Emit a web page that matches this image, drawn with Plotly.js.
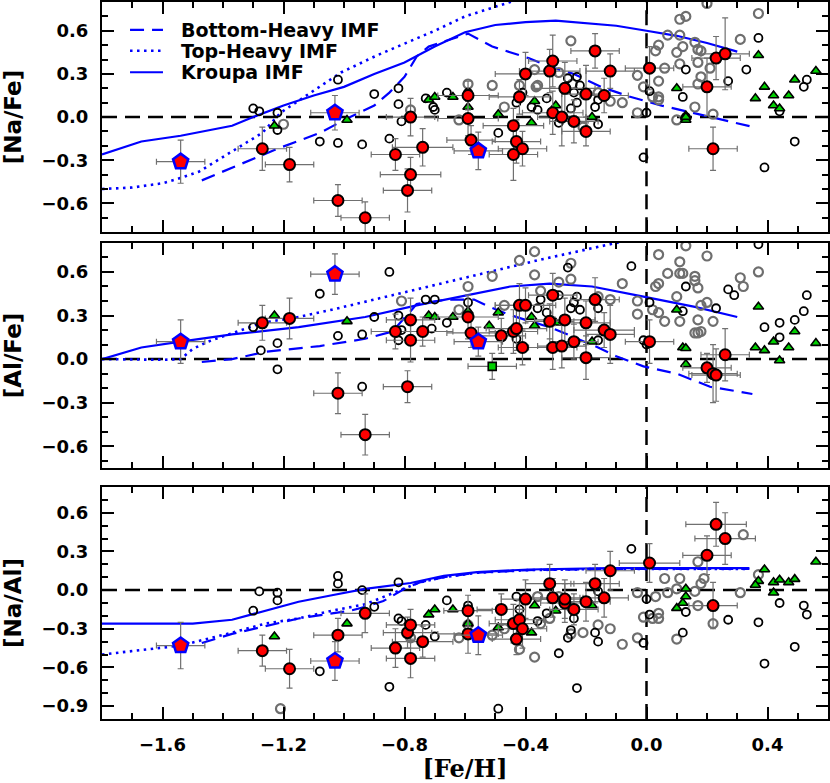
<!DOCTYPE html>
<html><head><meta charset="utf-8">
<script src="https://cdn.plot.ly/plotly-3.0.1.min.js"></script>
<style>body{margin:0;padding:0;background:#fff}#chart{width:830px;height:783px}</style>
</head><body><div id="chart"></div>
<script>
// ---------- Panel 1: [Na/Fe] ----------
const p1RedX  = [-1.27,-1.18,-1.02,-0.93,-0.83,-0.78,-0.79,-0.78,-0.74,-0.59,-0.59,-0.58,-0.42,-0.40,-0.44,-0.43,-0.41,-0.44,-0.32,-0.31,-0.31,-0.28,-0.27,-0.24,-0.20,-0.20,-0.17,-0.14,-0.12,0.01,0.20,0.23,0.26,0.22];
const p1RedY  = [-0.22,-0.33,-0.58,-0.70,-0.26,-0.40,-0.51,0.00,-0.21,0.15,-0.01,-0.16,0.14,0.30,-0.06,-0.17,-0.22,-0.26,0.32,0.39,0.03,0.00,0.20,-0.03,0.16,-0.10,0.46,0.15,0.32,0.34,0.21,0.41,0.44,-0.22];
const p1RedEx = [0.08,0.08,0.08,0.08,0.08,0.10,0.08,0.08,0.10,0.10,0.10,0.08,0.10,0.10,0.10,0.08,0.08,0.08,0.10,0.08,0.10,0.08,0.10,0.08,0.08,0.08,0.08,0.08,0.08,0.08,0.08,0.08,0.08,0.08];
const p1RedEy = [0.15,0.12,0.11,0.11,0.11,0.12,0.15,0.13,0.13,0.10,0.12,0.10,0.12,0.15,0.12,0.15,0.12,0.18,0.15,0.18,0.15,0.20,0.18,0.15,0.20,0.10,0.12,0.12,0.12,0.15,0.20,0.15,0.25,0.15];
const p1BlackX = [-1.30,-1.28,-1.22,-1.22,-1.02,-1.08,-1.02,-0.94,-0.90,-0.85,-0.82,-0.82,-0.81,-0.73,-0.705,-0.70,-0.66,-0.59,-0.49,-0.43,-0.41,-0.38,-0.36,-0.33,-0.29,-0.26,-0.25,-0.24,-0.23,-0.22,-0.23,-0.17,-0.16,-0.16,0.01,0.00,-0.01,0.13,0.12,0.27,0.33,0.37,0.49,0.39,0.52,0.53,0.44,0.13];
const p1BlackY = [0.06,0.04,0.03,-0.09,0.26,-0.17,-0.18,-0.19,0.16,-0.15,0.20,0.09,-0.03,0.13,0.07,0.05,0.17,0.17,-0.11,0.10,0.17,0.07,0.05,0.13,-0.04,0.27,0.06,0.17,0.10,0.22,0.28,0.07,0.12,-0.05,0.18,0.03,-0.28,0.33,0.14,0.25,0.33,0.55,-0.17,-0.35,0.21,0.26,0.04,0.00];
const p1GreyX = [-1.20,-0.78,-0.25,-0.37,-0.36,-0.365,-0.29,-0.51,-0.59,-0.47,-0.62,-0.42,-0.245,-0.16,-0.21,-0.12,-0.08,-0.03,-0.03,-0.01,0.02,0.04,0.04,0.06,0.03,0.04,0.07,0.11,0.13,0.11,0.12,0.10,0.11,0.16,0.17,0.18,0.17,0.18,0.17,0.16,0.10,0.22,0.21,0.31,0.37,0.20,0.04];
const p1GreyY = [-0.05,0.05,0.53,0.33,0.22,0.21,0.31,0.22,0.23,0.07,-0.02,0.22,0.23,0.17,-0.07,0.11,0.10,0.29,0.03,0.21,0.14,0.14,0.25,0.34,0.46,0.50,0.57,0.68,0.70,0.57,0.49,0.45,0.37,0.52,0.47,0.46,0.38,0.28,0.23,0.07,-0.02,0.02,0.34,0.54,0.72,0.79,0.12];
const p1TriX = [-1.23,-0.99,-0.72,-0.70,-0.64,-0.59,-0.49,-0.37,-0.38,-0.30,-0.18,0.10,0.13,0.13,0.13,0.37,0.36,0.39,0.42,0.42,0.44,0.47,0.49,0.56];
const p1TriY = [-0.06,-0.02,0.12,0.14,0.14,0.07,0.02,0.11,-0.04,0.08,0.00,0.20,0.01,-0.02,0.00,0.43,0.13,0.21,0.15,0.08,0.06,0.15,0.26,0.32];

// ---------- Panel 2: [Al/Fe] ----------
const p2RedX  = [-1.27,-1.18,-1.02,-0.93,-0.83,-0.78,-0.78,-0.79,-0.74,-0.59,-0.58,-0.48,-0.44,-0.43,-0.41,-0.42,-0.40,-0.32,-0.31,-0.31,-0.28,-0.27,-0.24,-0.20,-0.20,-0.17,-0.14,-0.12,0.01,0.26,0.20,0.22,0.23];
const p2RedY  = [0.25,0.28,-0.235,-0.52,0.19,0.27,0.13,-0.19,0.19,0.29,0.18,0.16,0.19,0.21,0.08,0.37,0.37,0.26,0.44,0.08,0.09,0.27,0.12,0.25,0.01,0.41,0.20,0.17,0.12,0.03,-0.06,-0.10,-0.11];
const p2RedEx = [0.08,0.08,0.08,0.08,0.08,0.08,0.08,0.08,0.10,0.10,0.08,0.08,0.08,0.10,0.08,0.08,0.10,0.08,0.08,0.08,0.08,0.10,0.08,0.08,0.08,0.08,0.10,0.08,0.08,0.08,0.08,0.08,0.08];
const p2RedEy = [0.12,0.14,0.14,0.14,0.12,0.15,0.15,0.11,0.10,0.15,0.10,0.12,0.15,0.15,0.12,0.15,0.12,0.12,0.15,0.15,0.15,0.15,0.12,0.15,0.15,0.15,0.12,0.20,0.15,0.18,0.10,0.20,0.18];
const p2BlackX = [-1.30,-1.275,-1.22,-1.22,-1.08,-1.02,-0.94,-0.94,-0.90,-0.85,-0.82,-0.81,-0.82,-0.73,-0.70,-0.71,-0.66,-0.59,-0.43,-0.36,-0.35,-0.33,-0.29,-0.26,-0.25,-0.24,-0.23,-0.22,-0.17,-0.16,-0.16,-0.05,-0.01,0.00,0.01,0.12,0.13,0.23,0.27,0.29,0.39,0.44,0.44,0.49,0.52,0.53,0.37];
const p2BlackY = [0.22,0.06,0.11,-0.07,0.45,0.16,0.17,-0.19,0.29,0.60,0.30,0.20,0.13,0.41,0.41,0.21,0.25,0.39,0.14,0.35,0.41,0.32,0.44,0.63,0.35,0.39,0.43,0.34,0.41,0.35,0.13,0.64,0.13,0.10,0.39,0.33,0.50,0.35,0.48,0.44,0.22,0.25,0.15,0.27,0.33,0.44,0.79];
const p2GreyX = [-0.81,-0.59,-0.62,-0.51,-0.47,-0.42,-0.37,-0.37,-0.35,-0.25,-0.25,-0.29,-0.16,-0.12,-0.08,-0.03,-0.03,0.02,0.04,0.03,0.04,0.04,0.06,0.07,0.10,0.11,0.11,0.12,0.11,0.13,0.16,0.16,0.17,0.16,0.17,0.18,0.17,0.18,0.20,0.20,0.22,0.31,0.32,0.37];
const p2GreyY = [0.40,0.50,0.34,0.57,0.37,0.68,0.74,0.58,0.47,0.66,0.55,0.53,0.43,0.41,0.52,0.40,0.31,0.34,0.32,0.50,0.52,0.72,0.26,0.59,0.43,0.67,0.59,0.59,0.26,0.78,0.57,0.54,0.49,0.18,0.18,0.19,0.27,0.37,0.39,0.71,0.26,0.56,0.50,0.60];
const p2TriX = [-1.23,-0.99,-0.72,-0.70,-0.64,-0.59,-0.52,-0.49,-0.38,-0.37,-0.30,-0.18,0.10,0.12,0.13,0.13,0.37,0.36,0.39,0.42,0.44,0.47,0.49,0.56];
const p2TriY = [0.30,0.26,0.30,0.29,0.29,0.33,0.23,0.32,0.29,0.23,0.25,0.12,0.34,0.08,0.075,-0.035,0.36,0.08,0.06,0.12,-0.01,0.08,0.19,0.11];
const p2SqX = [-0.51], p2SqY = [-0.05], p2SqEx = [0.08], p2SqEy = [0.09];

// ---------- Panel 3: [Na/Al] ----------
const p3RedX  = [-1.27,-1.18,-1.02,-0.93,-0.83,-0.79,-0.78,-0.78,-0.74,-0.59,-0.59,-0.48,-0.44,-0.42,-0.41,-0.43,-0.40,-0.32,-0.31,-0.27,-0.27,-0.24,-0.20,-0.17,-0.14,-0.12,0.01,0.20,0.23,0.26,0.22];
const p3RedY  = [-0.47,-0.61,-0.35,-0.18,-0.45,-0.33,-0.27,-0.53,-0.40,-0.16,-0.34,-0.15,-0.26,-0.23,-0.30,-0.38,-0.07,0.05,-0.06,-0.10,-0.07,-0.15,-0.09,0.05,-0.06,0.15,0.21,0.27,0.51,0.40,-0.12];
const p3RedEx = [0.08,0.08,0.08,0.08,0.08,0.08,0.08,0.08,0.10,0.08,0.10,0.08,0.08,0.08,0.08,0.08,0.08,0.08,0.10,0.08,0.08,0.08,0.08,0.08,0.08,0.08,0.10,0.08,0.10,0.10,0.08];
const p3RedEy = [0.12,0.15,0.13,0.15,0.15,0.12,0.12,0.15,0.12,0.12,0.15,0.12,0.15,0.15,0.15,0.12,0.15,0.15,0.15,0.15,0.15,0.12,0.15,0.15,0.15,0.15,0.15,0.15,0.17,0.20,0.18];
const p3BlackX = [-1.30,-1.28,-1.22,-1.22,-1.08,-1.02,-1.02,-0.94,-0.90,-0.85,-0.82,-0.82,-0.81,-0.73,-0.70,-0.66,-0.59,-0.49,-0.43,-0.42,-0.36,-0.33,-0.29,-0.26,-0.25,-0.24,-0.23,-0.17,-0.16,-0.16,-0.05,-0.01,0.00,0.01,0.12,0.13,0.27,0.37,0.39,0.44,0.49,0.52,0.53];
const p3BlackY = [-0.16,-0.01,-0.02,-0.08,-0.63,0.11,0.05,0.00,-0.13,-0.75,0.06,-0.22,-0.24,-0.27,-0.36,-0.08,-0.12,-0.92,-0.05,-0.15,-0.24,-0.18,-0.49,-0.37,-0.31,-0.22,-0.76,-0.33,-0.01,-0.40,0.32,-0.41,-0.07,-0.19,-0.33,-0.17,-0.23,-0.25,-0.57,-0.10,-0.44,-0.12,-0.19];
const p3GreyX = [-1.21,-0.78,-0.62,-0.59,-0.51,-0.47,-0.42,-0.37,-0.36,-0.35,-0.32,-0.29,-0.25,-0.25,-0.21,-0.16,-0.12,-0.08,-0.03,-0.03,-0.01,0.02,0.04,0.04,0.03,0.06,0.07,0.10,0.11,0.10,0.16,0.17,0.18,0.19,0.17,0.22,0.31,0.32,0.37];
const p3GreyY = [-0.92,-0.37,-0.37,-0.27,-0.35,-0.30,-0.46,-0.52,-0.05,-0.26,-0.22,-0.05,-0.34,-0.13,-0.33,-0.27,-0.30,-0.42,-0.02,-0.37,-0.21,-0.22,-0.18,-0.22,-0.05,0.09,-0.02,0.01,0.09,-0.38,-0.01,-0.12,0.05,0.09,0.22,-0.26,-0.02,0.43,0.12];
const p3TriX = [-1.23,-0.99,-0.72,-0.70,-0.64,-0.59,-0.49,-0.38,-0.37,-0.30,-0.18,0.10,0.13,0.13,0.12,0.39,0.37,0.36,0.42,0.44,0.42,0.47,0.49,0.56];
const p3TriY = [-0.36,-0.26,-0.19,-0.15,-0.15,-0.26,-0.29,-0.33,-0.12,-0.16,-0.12,-0.14,0.01,-0.05,-0.10,0.16,0.07,0.04,0.06,0.08,-0.02,0.06,0.085,0.22];

// ---------- Pentagons (same stars in all panels) ----------
const pentX  = [-1.54,-1.03,-0.556];
const pentEx = [0.08,0.08,0.08];
const pent1Y = [-0.31,0.03,-0.235], pent1Ey = [0.15,0.12,0.13];
const pent2Y = [0.12,0.585,0.12],   pent2Ey = [0.15,0.14,0.10];
const pent3Y = [-0.43,-0.55,-0.35], pent3Ey = [0.18,0.15,0.15];

// ---------- Chemical evolution models ----------
const m1KroX = [-1.8,-1.67,-1.54,-1.37,-1.30,-1.2,-1.1,-1.0,-0.9,-0.8,-0.7,-0.6,-0.5,-0.4,-0.3,-0.2,-0.1,0.0,0.1,0.2,0.3];
const m1KroY = [-0.26,-0.17,-0.13,-0.06,0.0,0.08,0.15,0.21,0.30,0.38,0.49,0.59,0.64,0.66,0.67,0.655,0.635,0.60,0.565,0.515,0.455];
const m1TopX = [-1.8,-1.7,-1.6,-1.55,-1.48,-1.37,-1.27,-1.21,-1.11,-1.01,-0.89,-0.78,-0.7,-0.6,-0.5,-0.45,-0.35];
const m1TopY = [-0.50,-0.49,-0.46,-0.43,-0.38,-0.24,-0.11,0.03,0.17,0.31,0.43,0.53,0.60,0.70,0.77,0.80,0.86];
const m1BotX = [-1.47,-1.37,-1.22,-1.08,-0.99,-0.9,-0.85,-0.8,-0.76,-0.72,-0.65,-0.59,-0.51,-0.39,-0.32,-0.24,-0.15,-0.06,0.05,0.17,0.28,0.355];
const m1BotY = [-0.44,-0.35,-0.22,-0.11,-0.01,0.08,0.17,0.28,0.42,0.49,0.54,0.58,0.49,0.41,0.35,0.30,0.21,0.145,0.08,0.02,-0.035,-0.07];

const m2KroX = [-1.8,-1.67,-1.54,-1.37,-1.15,-0.93,-0.76,-0.62,-0.45,-0.32,-0.18,-0.01,0.16,0.30];
const m2KroY = [0.0,0.08,0.12,0.17,0.22,0.29,0.37,0.43,0.50,0.52,0.50,0.43,0.36,0.29];
const m2TopX = [-1.8,-1.6,-1.54,-1.50,-1.45,-1.27,-1.15,-1.04,-0.78,-0.56,-0.34,-0.10,0.0];
const m2TopY = [0.0,-0.005,0.0,0.07,0.12,0.25,0.29,0.34,0.47,0.58,0.69,0.80,0.85];
const m2BotX = [-1.47,-1.37,-1.26,-1.08,-0.93,-0.84,-0.78,-0.76,-0.66,-0.57,-0.53,-0.46,-0.40,-0.32,-0.25,-0.16,-0.10,-0.01,0.10,0.21,0.35];
const m2BotY = [-0.02,0.0,0.05,0.09,0.14,0.19,0.33,0.38,0.41,0.41,0.37,0.31,0.27,0.22,0.16,0.08,0.02,-0.05,-0.10,-0.19,-0.24];

const m3KroX = [-1.8,-1.5,-1.37,-1.26,-1.15,-1.04,-0.93,-0.78,-0.67,-0.56,-0.39,-0.12,0.34];
const m3KroY = [-0.26,-0.26,-0.23,-0.16,-0.09,-0.04,0.01,0.055,0.11,0.14,0.16,0.17,0.17];
const m3TopX = [-1.8,-1.54,-1.37,-1.26,-1.15,-1.04,-0.93,-0.81,-0.75,-0.67,-0.56,-0.39,-0.12,0.34];
const m3TopY = [-0.50,-0.43,-0.33,-0.26,-0.22,-0.16,-0.11,0.0,0.06,0.10,0.135,0.155,0.165,0.165];
const m3BotX = [-1.47,-1.37,-1.15,-0.98,-0.93,-0.87,-0.80,-0.75,-0.67,-0.56,-0.39,-0.12,0.34];
const m3BotY = [-0.41,-0.34,-0.22,-0.16,-0.13,-0.085,0.01,0.06,0.10,0.135,0.155,0.165,0.165];

const modelNames = ['Bottom-Heavy IMF','Top-Heavy IMF','Kroupa IMF'];
const yTitles = ['[Na/Fe]','[Al/Fe]','[Na/Al]'];

// ---------- styles ----------
const BLUE = '#0000ff';
const errStyle = {type:'data', color:'#707070', thickness:1.2, width:3};
const lineStyles = [
  {color:BLUE, width:2.2, dash:'14px,8px'},
  {color:BLUE, width:2.6, dash:'2.5px,4.5px'},
  {color:BLUE, width:2.2, dash:'solid'}
];

const traces = [];
function addModels(xa, ya, sets) {
  sets.forEach((s, i) => {
    traces.push({x:s[0], y:s[1], xaxis:xa, yaxis:ya, mode:'lines', name:modelNames[i],
      line:lineStyles[i], showlegend:false, hoverinfo:'skip'});
  });
}
function addPoints(xa, ya, d) {
  traces.push({x:d.gx, y:d.gy, xaxis:xa, yaxis:ya, mode:'markers', showlegend:false,
    marker:{symbol:'circle-open', size:9, color:'#6e6e6e', line:{width:2.2}}});
  traces.push({x:d.bx, y:d.by, xaxis:xa, yaxis:ya, mode:'markers', showlegend:false,
    marker:{symbol:'circle-open', size:8, color:'black', line:{width:1.8}}});
  traces.push({x:d.tx, y:d.ty, xaxis:xa, yaxis:ya, mode:'markers', showlegend:false,
    marker:{symbol:'triangle-up', size:9, color:'#00d000', line:{color:'black', width:1.6}}});
  if (d.sx) traces.push({x:d.sx, y:d.sy, xaxis:xa, yaxis:ya, mode:'markers', showlegend:false,
    error_x:Object.assign({array:d.sex}, errStyle), error_y:Object.assign({array:d.sey}, errStyle),
    marker:{symbol:'square', size:8, color:'#00d000', line:{color:'black', width:1.6}}});
  traces.push({x:d.rx, y:d.ry, xaxis:xa, yaxis:ya, mode:'markers', showlegend:false,
    error_x:Object.assign({array:d.rex}, errStyle), error_y:Object.assign({array:d.rey}, errStyle),
    marker:{symbol:'circle', size:11, color:'#ff0000', line:{color:'black', width:2}}});
  traces.push({x:pentX, y:d.py, xaxis:xa, yaxis:ya, mode:'markers', showlegend:false,
    error_x:Object.assign({array:pentEx}, errStyle), error_y:Object.assign({array:d.pey}, errStyle),
    marker:{symbol:'pentagon', size:16, color:'#ff0000', line:{color:BLUE, width:2.5}}});
}

addModels('x','y',[[m1BotX,m1BotY],[m1TopX,m1TopY],[m1KroX,m1KroY]]);
addModels('x2','y2',[[m2BotX,m2BotY],[m2TopX,m2TopY],[m2KroX,m2KroY]]);
addModels('x3','y3',[[m3BotX,m3BotY],[m3TopX,m3TopY],[m3KroX,m3KroY]]);
addPoints('x','y',{gx:p1GreyX,gy:p1GreyY,bx:p1BlackX,by:p1BlackY,tx:p1TriX,ty:p1TriY,rx:p1RedX,ry:p1RedY,rex:p1RedEx,rey:p1RedEy,py:pent1Y,pey:pent1Ey});
addPoints('x2','y2',{gx:p2GreyX,gy:p2GreyY,bx:p2BlackX,by:p2BlackY,tx:p2TriX,ty:p2TriY,rx:p2RedX,ry:p2RedY,rex:p2RedEx,rey:p2RedEy,py:pent2Y,pey:pent2Ey,sx:p2SqX,sy:p2SqY,sex:p2SqEx,sey:p2SqEy});
addPoints('x3','y3',{gx:p3GreyX,gy:p3GreyY,bx:p3BlackX,by:p3BlackY,tx:p3TriX,ty:p3TriY,rx:p3RedX,ry:p3RedY,rex:p3RedEx,rey:p3RedEy,py:pent3Y,pey:pent3Ey});

const tickFont = {family:'DejaVu Sans', size:18, color:'black', weight:'bold'};
const axBase = {showline:true, linecolor:'black', linewidth:2, mirror:'allticks', ticks:'inside',
  ticklen:12, tickwidth:2, tickcolor:'black', showgrid:false, zeroline:false, tickfont:tickFont,
  tickformat:'.1f', tickmode:'linear', tick0:0, ticklabelstandoff:8,
  minor:{ticks:'inside', ticklen:6, tickwidth:2, tickcolor:'black', dtick:0.1, showgrid:false}};
function xa(anchor, labels) {
  return Object.assign({}, axBase, {range:[-1.8,0.6], dtick:0.4, anchor:anchor, domain:[0,1], showticklabels:labels});
}
function ya(range, dom, title, anchor) {
  return Object.assign({}, axBase, {range:range, dtick:0.3, domain:dom, anchor:anchor,
    title:{text:title, font:{family:'DejaVu Sans', size:23, color:'black', weight:'bold'}, standoff:16}});
}

const dashLine = {color:'black', width:2.5, dash:'15px,8px'};
const shapes = [];
[['x','y'],['x2','y2'],['x3','y3']].forEach(p => {
  shapes.push({type:'line', xref:p[0]+' domain', yref:p[1], x0:0, x1:1, y0:0, y1:0, line:dashLine, layer:'below'});
  shapes.push({type:'line', xref:p[0], yref:p[1]+' domain', x0:0, x1:0, y0:0, y1:1, line:dashLine, layer:'below'});
});

// ---------- legend (key samples + labels in the top panel) ----------
const legendRowsY = [0.961, 0.932, 0.902];
const annotations = [];
modelNames.forEach((name, i) => {
  shapes.push({type:'line', xref:'paper', yref:'paper', x0:0.0386, x1:0.084,
    y0:legendRowsY[i], y1:legendRowsY[i], line:lineStyles[i]});
  annotations.push({xref:'paper', yref:'paper', x:0.106, y:legendRowsY[i], xanchor:'left', yanchor:'middle',
    text:name, showarrow:false, font:{family:'DejaVu Sans', size:19, color:'black', weight:'bold'}});
});

const layout = {
  width:830, height:783,
  margin:{l:102, r:2, t:2, b:64, pad:0},
  paper_bgcolor:'white', plot_bgcolor:'white',
  showlegend:false,
  xaxis: xa('y', false),
  xaxis2: Object.assign(xa('y2', false), {matches:'x'}),
  xaxis3: Object.assign(xa('y3', true), {matches:'x',
    title:{text:'[Fe/H]', font:{family:'DejaVu Serif', size:24, color:'black', weight:'bold'}, standoff:8}}),
  yaxis: ya([-0.8,0.8],[0.679,1], yTitles[0], 'x'),
  yaxis2: ya([-0.75,0.8],[0.350,0.664], yTitles[1], 'x2'),
  yaxis3: ya([-1.0,0.8],[0,0.3236], yTitles[2], 'x3'),
  shapes:shapes,
  annotations:annotations
};

Plotly.newPlot('chart', traces, layout, {staticPlot:true, displayModeBar:false});
</script>
</body></html>
